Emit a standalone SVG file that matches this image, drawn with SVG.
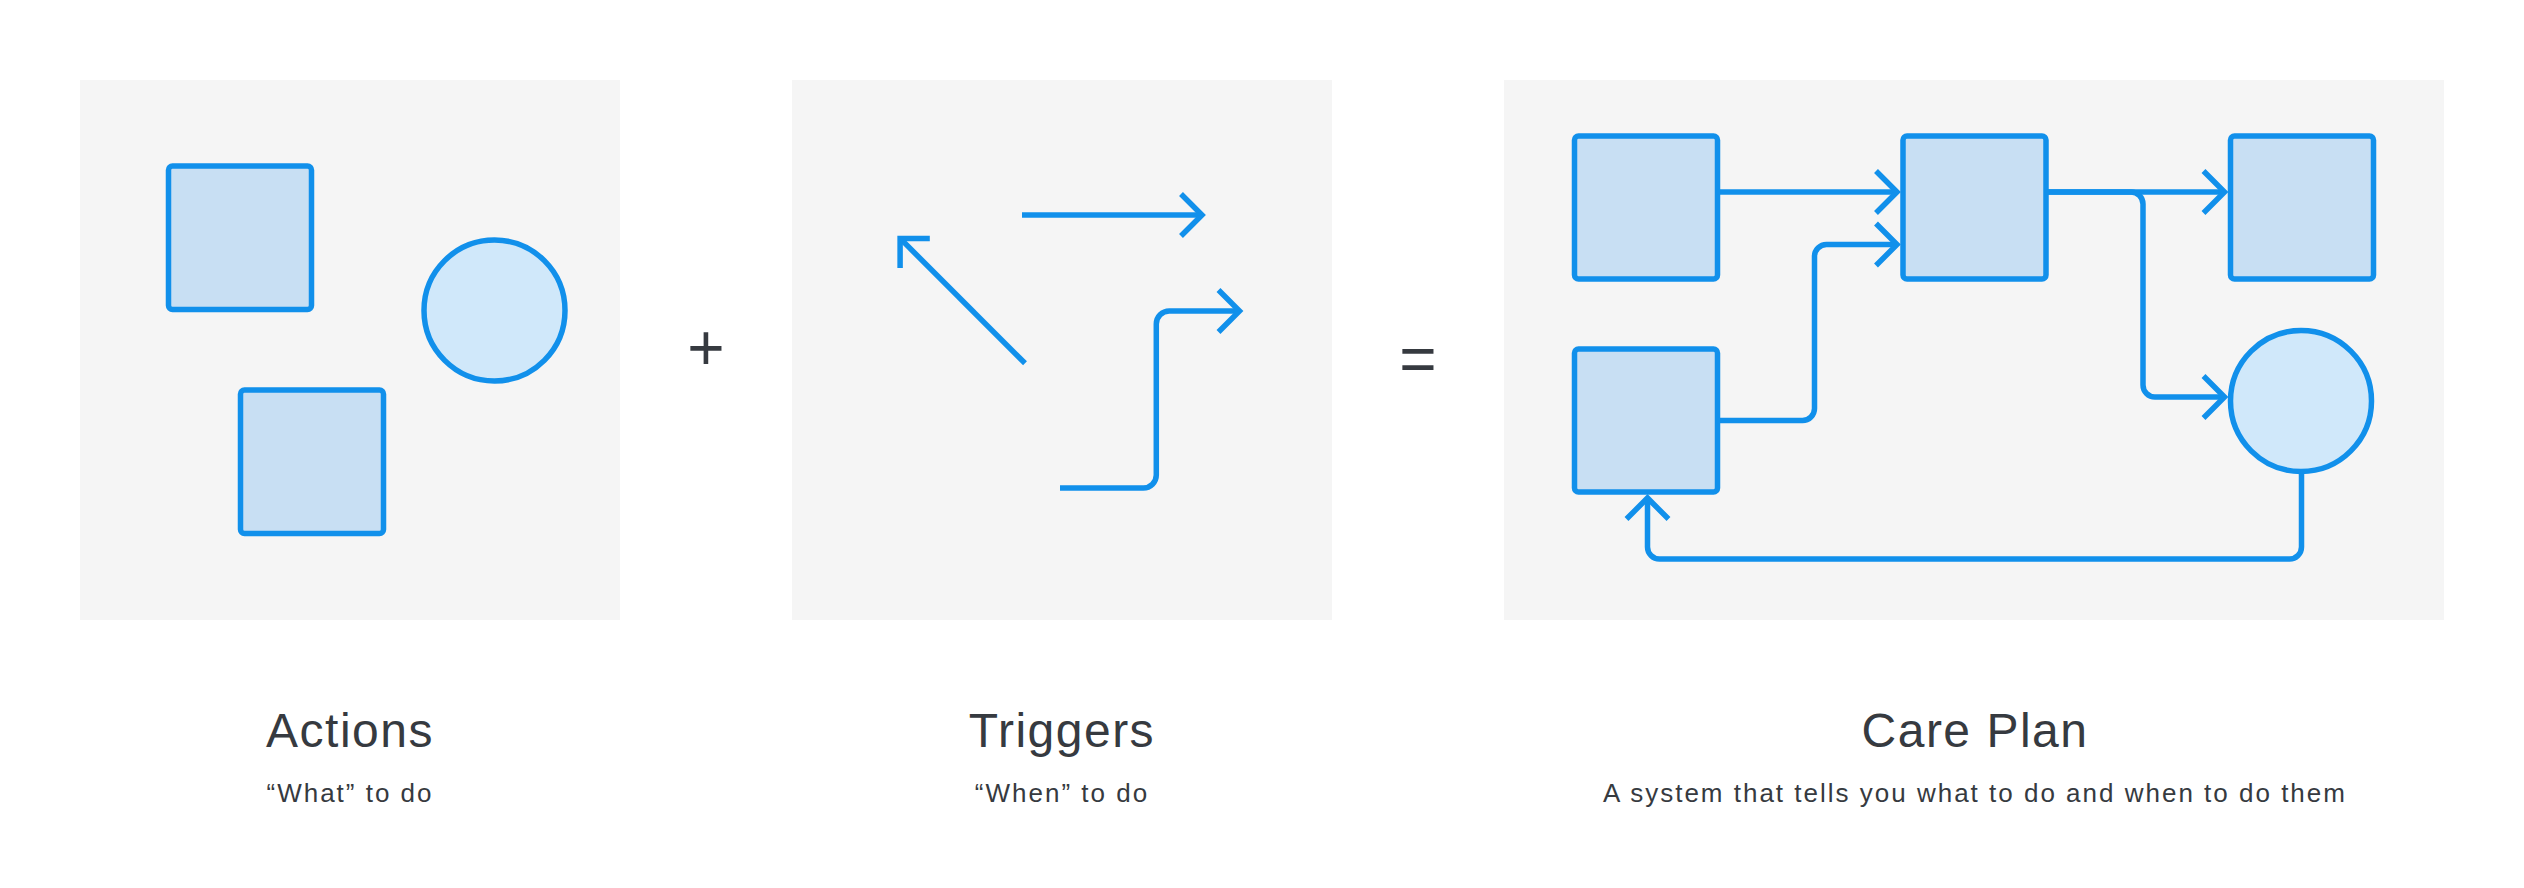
<svg xmlns="http://www.w3.org/2000/svg" width="2524" height="888" viewBox="0 0 2524 888">
  <style>
    .panel { fill: #F5F5F5; }
    .box { fill: #C8DFF3; stroke: #1190EB; stroke-width: 5.5; }
    .circ { fill: #D0E8FA; stroke: #1190EB; stroke-width: 5.5; }
    .conn { fill: none; stroke: #1190EB; stroke-width: 5.5; }
    .title { font-family: "Liberation Sans", Arial, sans-serif; font-size: 48px; letter-spacing: 1.5px; fill: #363A40; text-anchor: middle; }
    .sub { font-family: "Liberation Sans", Arial, sans-serif; font-size: 26px; letter-spacing: 2px; fill: #363A40; text-anchor: middle; }
    .op { font-family: "Liberation Sans", Arial, sans-serif; font-size: 64px; fill: #363A40; text-anchor: middle; }
  </style>
  <defs>
    <marker id="chev" markerUnits="userSpaceOnUse" orient="auto" refX="0" refY="0" markerWidth="60" markerHeight="60" viewBox="-30 -30 60 60" overflow="visible">
      <path d="M-21,-21 L0,0 L-21,21" fill="none" stroke="#1190EB" stroke-width="5.5" stroke-linejoin="miter"/>
    </marker>
  </defs>

  <rect width="2524" height="888" fill="#FFFFFF"/>

  <!-- Panels -->
  <g id="panel-actions"><rect class="panel" x="80" y="80" width="540" height="540"/></g>
  <g id="panel-triggers"><rect class="panel" x="792" y="80" width="540" height="540"/></g>
  <g id="panel-careplan"><rect class="panel" x="1504" y="80" width="940" height="540"/></g>

  <!-- Actions panel shapes -->
  <g id="action-square-1"><rect class="box" x="168.5" y="166" width="143" height="143.5" rx="4"/></g>
  <g id="action-square-2"><rect class="box" x="240.5" y="390" width="143" height="143.5" rx="4"/></g>
  <g id="action-circle"><circle class="circ" cx="494.5" cy="310.5" r="70.5"/></g>

  <!-- Triggers panel arrows -->
  <g id="trigger-arrows">
    <path class="conn" d="M1022,215 L1202,215" marker-end="url(#chev)"/>
    <path class="conn" d="M1025,363.3 L900.1,238.4" marker-end="url(#chev)"/>
    <path class="conn" d="M1060,488 L1143.3,488 A13,13 0 0 0 1156.3,475 L1156.3,324 A13,13 0 0 1 1169.3,311 L1239.5,311" marker-end="url(#chev)"/>
  </g>

  <!-- Care plan nodes -->
  <g id="cp-a"><rect class="box" x="1574.5" y="136" width="143" height="143" rx="4"/></g>
  <g id="cp-b"><rect class="box" x="1574.5" y="349" width="143" height="143" rx="4"/></g>
  <g id="cp-c"><rect class="box" x="1903" y="136" width="143" height="143" rx="4"/></g>
  <g id="cp-d"><rect class="box" x="2230.5" y="136" width="143" height="143" rx="4"/></g>
  <g id="cp-e"><circle class="circ" cx="2301" cy="401" r="70.5"/></g>

  <!-- Care plan connectors -->
  <g id="connectors">
    <path class="conn" d="M1717,192 L1897,192" marker-end="url(#chev)"/>
    <path class="conn" d="M1717,420.5 L1802.5,420.5 A12,12 0 0 0 1814.5,408.5 L1814.5,256.5 A12,12 0 0 1 1826.5,244.5 L1897,244.5" marker-end="url(#chev)"/>
    <path class="conn" d="M2046,192 L2224.5,192" marker-end="url(#chev)"/>
    <path class="conn" d="M2046,192 L2131,192 A12,12 0 0 1 2143,204 L2143,385 A12,12 0 0 0 2155,397 L2224.5,397" marker-end="url(#chev)"/>
    <path class="conn" d="M2301.5,473.5 L2301.5,547 A12,12 0 0 1 2289.5,559 L1659.5,559 A12,12 0 0 1 1647.5,547 L1647.5,498" marker-end="url(#chev)"/>
  </g>

  <!-- Operators -->
  <g id="op-plus"><text class="op" x="706" y="370">+</text></g>
  <g id="op-equals"><text class="op" x="1418" y="381">=</text></g>

  <!-- Labels -->
  <g id="label-actions">
    <text class="title" x="350" y="747">Actions</text>
    <text class="sub" x="350" y="801.5">“What” to do</text>
  </g>
  <g id="label-triggers">
    <text class="title" x="1062" y="747">Triggers</text>
    <text class="sub" x="1062" y="801.5">“When” to do</text>
  </g>
  <g id="label-careplan">
    <text class="title" x="1975" y="747">Care Plan</text>
    <text class="sub" x="1975" y="801.5">A system that tells you what to do and when to do them</text>
  </g>
</svg>
